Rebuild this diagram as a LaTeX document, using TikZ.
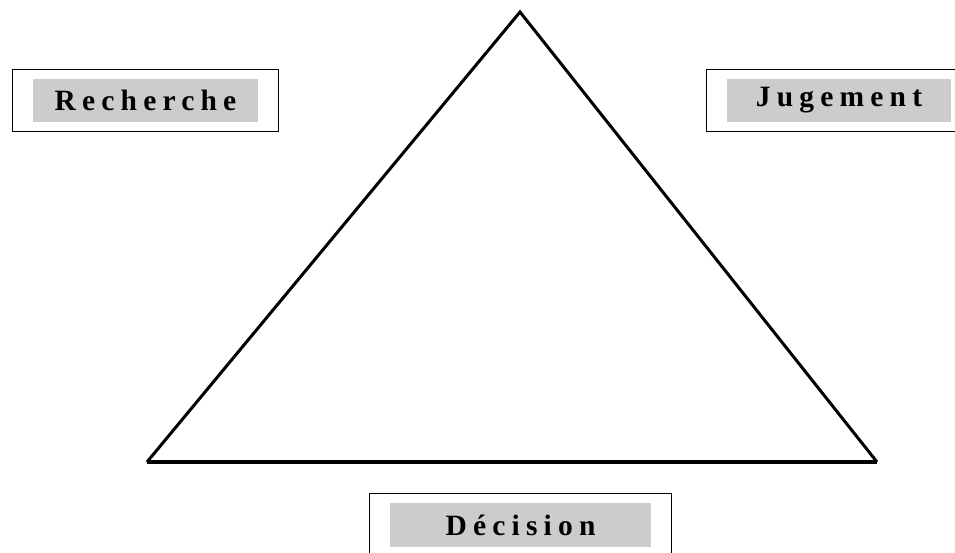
\documentclass[tikz,border=0pt]{standalone}
\usepackage{fontspec}
\usepackage{tikz}
\usetikzlibrary{fit}
\newfontfamily\labelfont[LetterSpace=21]{Liberation Serif}

\tikzset{
    label box/.style={fill=black!20, minimum height=43pt, inner sep=0pt,
        font=\labelfont\bfseries\fontsize{29.5}{32}\selectfont},
    frame box/.style={draw, line width=1.3pt, inner xsep=20pt, inner ysep=9pt},
    side/.style={line width=3pt, line join=miter},
    base/.style={line width=3.6pt}
}

\begin{document}
\begin{tikzpicture}[x=1pt, y=-1pt]
    \useasboundingbox (0,0) rectangle (955,552);

    % The triangle
    \coordinate (apex) at (520,12);
    \coordinate (baseleft) at (147,462);
    \coordinate (baseright) at (877,462);
    \draw[side] (baseleft) -- (apex) -- (baseright);
    \draw[base] (baseleft) -- (baseright);

    % Labels with their frames
    \node[label box, minimum width=225pt] (recherche) at (145.5,100.5) {Recherche};
    \node[frame box, fit=(recherche)] (rechercheframe) {};

    \node[label box, minimum width=224pt] (jugement) at (839,100.5) {Jugement};
    \node[frame box, fit=(jugement)] (jugementframe) {};

    \node[label box, minimum width=261pt, minimum height=44pt] (decision) at (520.5,525) {Décision};
    \node[frame box, fit=(decision)] (decisionframe) {};
\end{tikzpicture}
\end{document}
